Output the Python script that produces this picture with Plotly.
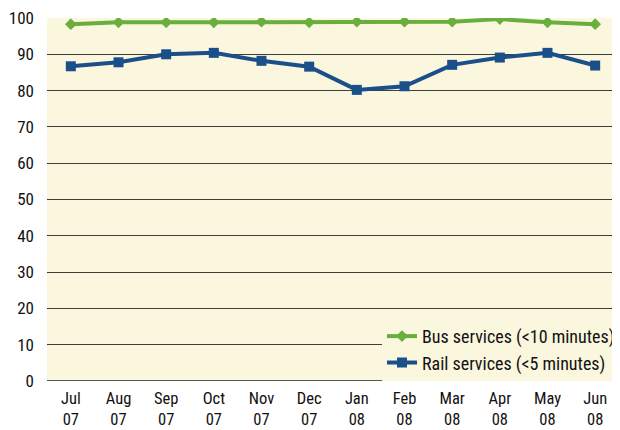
import plotly.graph_objects as go

months = ["Jul<br>07", "Aug<br>07", "Sep<br>07", "Oct<br>07", "Nov<br>07", "Dec<br>07",
          "Jan<br>08", "Feb<br>08", "Mar<br>08", "Apr<br>08", "May<br>08", "Jun<br>08"]
bus = [98.3, 98.8, 98.8, 98.8, 99.0, 98.8, 99.0, 99.0, 99.0, 99.7, 98.8, 98.3]
rail = [86.7, 87.8, 90.0, 90.4, 88.2, 86.6, 80.2, 81.2, 87.1, 89.1, 90.4, 86.9]
yticks = [0, 10, 20, 30, 40, 50, 60, 70, 80, 90, 100]

FONT = "Roboto Condensed, Liberation Sans Narrow, Arial Narrow, sans-serif"

fig = go.Figure()
fig.add_trace(go.Scatter(
    x=months, y=bus, mode="lines+markers", name="Bus services (<10 minutes)",
    line=dict(color="#6AAE3E", width=4),
    marker=dict(symbol="diamond", size=9, color="#6AAE3E"),
))
fig.add_trace(go.Scatter(
    x=months, y=rail, mode="lines+markers", name="Rail services (<5 minutes)",
    line=dict(color="#1B4F8A", width=4),
    marker=dict(symbol="square", size=10, color="#1B4F8A"),
))

# page body has an 8px margin, so the figure is 612x422 and offset by 8px
fig.update_layout(
    width=612, height=422,
    margin=dict(l=39, r=0, t=10, b=49),
    paper_bgcolor="white",
    plot_bgcolor="#FBF6DE",
    font=dict(family=FONT, size=17, color="#111111"),
    showlegend=True,
    legend=dict(
        x=0.586, y=0.087, xanchor="left", yanchor="middle",
        bgcolor="#FBF6DE", borderwidth=0,
        font=dict(family=FONT, size=18, color="#111111"),
        itemwidth=30,
    ),
    xaxis=dict(
        type="category", range=[-0.5, 11.5], showgrid=False, zeroline=False,
        tickfont=dict(family=FONT, size=16.5), ticks="", showline=False,
        automargin=False, ticklabelstandoff=5, ticklabeloverflow="allow",
    ),
    yaxis=dict(
        range=[0, 100], tickvals=yticks, showgrid=True, gridcolor="#3f3f3a",
        gridwidth=1.2, zeroline=False, ticks="", showline=False,
        tickfont=dict(family=FONT, size=17), ticklabelstandoff=12,
        automargin=False, ticklabeloverflow="allow",
    ),
)
fig.add_shape(type="line", xref="paper", yref="y", x0=0, x1=1, y0=0, y1=0,
              line=dict(color="#5a5a50", width=2), layer="below")

fig.write_html("out.html")
